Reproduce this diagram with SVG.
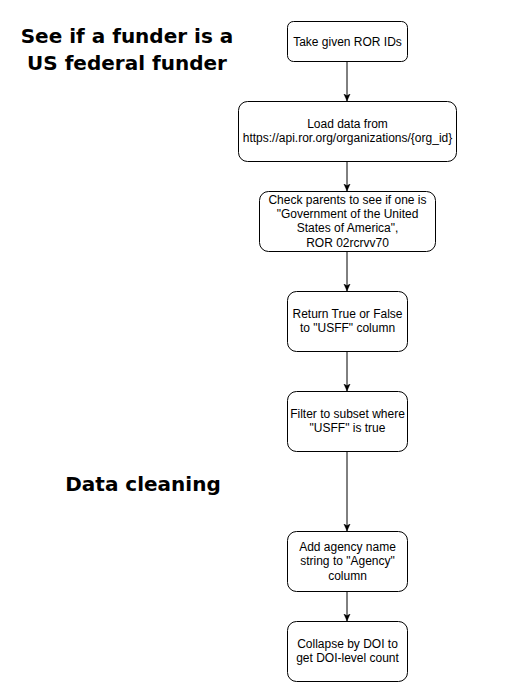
<svg xmlns="http://www.w3.org/2000/svg" width="528" height="693" viewBox="0 0 528 693">
<style>
.box{fill:#fff;stroke:#000;stroke-width:1}
.t{font-family:"Liberation Sans",Arial,sans-serif;font-size:12px;fill:#000;text-anchor:middle}
.h{font-family:"DejaVu Sans",Verdana,sans-serif;font-size:20px;font-weight:bold;fill:#000;text-anchor:middle}
.c{stroke:#000;stroke-width:1;fill:none;marker-end:url(#arr)}
</style>
<defs>
<marker id="arr" viewBox="0 0 10 10" refX="9" refY="5" markerWidth="8" markerHeight="8" markerUnits="userSpaceOnUse" orient="auto">
<path d="M0,1 L9,5 L0,9 L2.5,5 Z" fill="#000" stroke="#000" stroke-width="0.5"/>
</marker>
</defs>
<rect width="528" height="693" fill="#fff"/>
<g id="title1">
<text class="h" x="127" y="43">See if a funder is a</text>
<text class="h" x="127" y="70">US federal funder</text>
</g>
<g id="title2">
<text class="h" x="143" y="491">Data cleaning</text>
</g>
<g id="connectors">
<line class="c" x1="347" y1="61" x2="347" y2="101"/>
<line class="c" x1="347" y1="161" x2="347" y2="191"/>
<line class="c" x1="347" y1="251" x2="347" y2="291"/>
<line class="c" x1="347" y1="351" x2="347" y2="391"/>
<line class="c" x1="347" y1="451" x2="347" y2="531"/>
<line class="c" x1="347" y1="591" x2="347" y2="621"/>
</g>
<g id="n1">
<rect class="box" x="287.5" y="21.5" width="120" height="40" rx="6"/>
<text class="t" x="347.5" y="46">Take given ROR IDs</text>
</g>
<g id="n2">
<rect class="box" x="238.5" y="101.5" width="218" height="60" rx="9"/>
<text class="t" x="347.5" y="128">Load data from</text>
<text class="t" x="347.5" y="142.4">https://api.ror.org/organizations/{org_id}</text>
</g>
<g id="n3">
<rect class="box" x="259.5" y="191.5" width="176" height="60" rx="9"/>
<text class="t" x="347.5" y="203.6">Check parents to see if one is</text>
<text class="t" x="347.5" y="218">"Government of the United</text>
<text class="t" x="347.5" y="232.4">States of America",</text>
<text class="t" x="347.5" y="246.8">ROR 02rcrvv70</text>
</g>
<g id="n4">
<rect class="box" x="287.5" y="291.5" width="120" height="60" rx="9"/>
<text class="t" x="347.5" y="318">Return True or False</text>
<text class="t" x="347.5" y="332.4">to "USFF" column</text>
</g>
<g id="n5">
<rect class="box" x="287.5" y="391.5" width="120" height="60" rx="9"/>
<text class="t" x="347.5" y="418">Filter to subset where</text>
<text class="t" x="347.5" y="432.4">"USFF" is true</text>
</g>
<g id="n6">
<rect class="box" x="287.5" y="531.5" width="120" height="60" rx="9"/>
<text class="t" x="347.5" y="550.8">Add agency name</text>
<text class="t" x="347.5" y="565.2">string to "Agency"</text>
<text class="t" x="347.5" y="579.6">column</text>
</g>
<g id="n7">
<rect class="box" x="287.5" y="621.5" width="120" height="60" rx="9"/>
<text class="t" x="347.5" y="648">Collapse by DOI to</text>
<text class="t" x="347.5" y="662.4">get DOI-level count</text>
</g>
</svg>
